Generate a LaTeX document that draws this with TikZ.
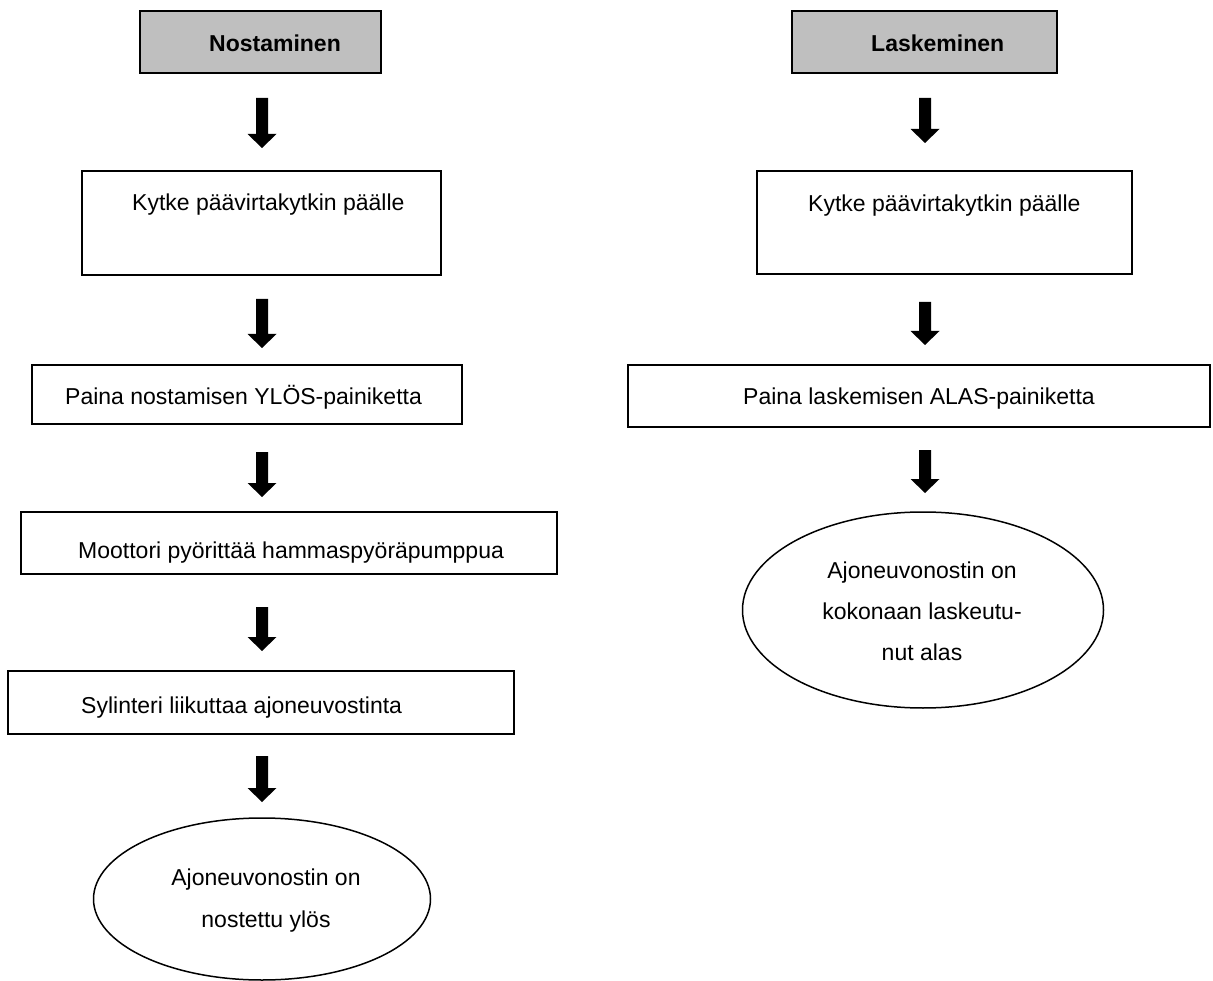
\documentclass[tikz,border=0pt]{standalone}
\usepackage{fontspec}
\setmainfont{Liberation Sans}
\usetikzlibrary{shapes.geometric,calc}
\newcommand{\downarr}[2]{%
  \fill[black] ($(#1)+(-6,0)$) -- ($(#1)+(6,0)$) -- ($(#2)+(6,-14)$) -- ($(#2)+(14.5,-14)$) -- (#2) -- ($(#2)+(-14.5,-14)$) -- ($(#2)+(-6,-14)$) -- cycle;}
\begin{document}
\begin{tikzpicture}[x=1pt,y=-1pt,
  box/.style={draw=black, line width=1.8pt, rectangle, inner sep=0pt},
  head/.style={box, fill=black!25},
  oval/.style={draw=black, line width=1.5pt, ellipse, inner sep=0pt},
  txt/.style={inner sep=0pt, anchor=base west, font=\fontsize{23pt}{28pt}\selectfont},
  btxt/.style={txt, font=\fontsize{23pt}{28pt}\selectfont\bfseries},
  ctxt/.style={inner sep=0pt, anchor=base, font=\fontsize{23pt}{28pt}\selectfont}]
\useasboundingbox (0,0) rectangle (1213,981);
% left column
\node[head, minimum width=241pt, minimum height=62pt] (h1) at (260.5,42) {};
\node[btxt] (th1) at (209,52) {Nostaminen};
\node[box, minimum width=359pt, minimum height=104pt] (L2) at (261.5,223) {};
\node[txt] (tL2) at (132,211) {Kytke päävirtakytkin päälle};
\node[box, minimum width=430pt, minimum height=59pt] (L3) at (247,394.5) {};
\node[txt] (tL3) at (65,405) {Paina nostamisen YLÖS-painiketta};
\node[box, minimum width=536pt, minimum height=62pt] (L4) at (289,543) {};
\node[txt] (tL4) at (78,558) {Moottori pyörittää hammaspyöräpumppua};
\node[box, minimum width=506pt, minimum height=63pt] (L5) at (261,702.5) {};
\node[txt] (tL5) at (81,713) {Sylinteri liikuttaa ajoneuvostinta};
\node[oval, minimum width=337pt, minimum height=162pt] (L6) at (262,899) {};
\node[ctxt] (tL6a) at (266,885) {Ajoneuvonostin on};
\node[ctxt] (tL6b) at (266,927) {nostettu ylös};
% right column
\node[head, minimum width=265pt, minimum height=62pt] (h2) at (924.5,42) {};
\node[btxt] (th2) at (871,52) {Laskeminen};
\node[box, minimum width=375pt, minimum height=103pt] (R2) at (944.5,222.5) {};
\node[txt] (tR2) at (808,212) {Kytke päävirtakytkin päälle};
\node[box, minimum width=582pt, minimum height=62pt] (R3) at (919,396) {};
\node[txt] (tR3) at (743,405) {Paina laskemisen ALAS-painiketta};
\node[oval, minimum width=361pt, minimum height=196pt] (R4) at (923,610) {};
\node[ctxt] (tR4a) at (922,578) {Ajoneuvonostin on};
\node[ctxt] (tR4b) at (922,619) {kokonaan laskeutu-};
\node[ctxt] (tR4c) at (922,660) {nut alas};
% arrows
\coordinate (a1s) at (262,98);  \coordinate (a1e) at (262,148);
\coordinate (a2s) at (262,299); \coordinate (a2e) at (262,348);
\coordinate (a3s) at (262,452); \coordinate (a3e) at (262,497);
\coordinate (a4s) at (262,607); \coordinate (a4e) at (262,651);
\coordinate (a5s) at (262,756); \coordinate (a5e) at (262,802);
\coordinate (b1s) at (925,98);  \coordinate (b1e) at (925,143);
\coordinate (b2s) at (925,302); \coordinate (b2e) at (925,345);
\coordinate (b3s) at (925,450); \coordinate (b3e) at (925,493);
\downarr{a1s}{a1e}
\downarr{a2s}{a2e}
\downarr{a3s}{a3e}
\downarr{a4s}{a4e}
\downarr{a5s}{a5e}
\downarr{b1s}{b1e}
\downarr{b2s}{b2e}
\downarr{b3s}{b3e}
\end{tikzpicture}
\end{document}
